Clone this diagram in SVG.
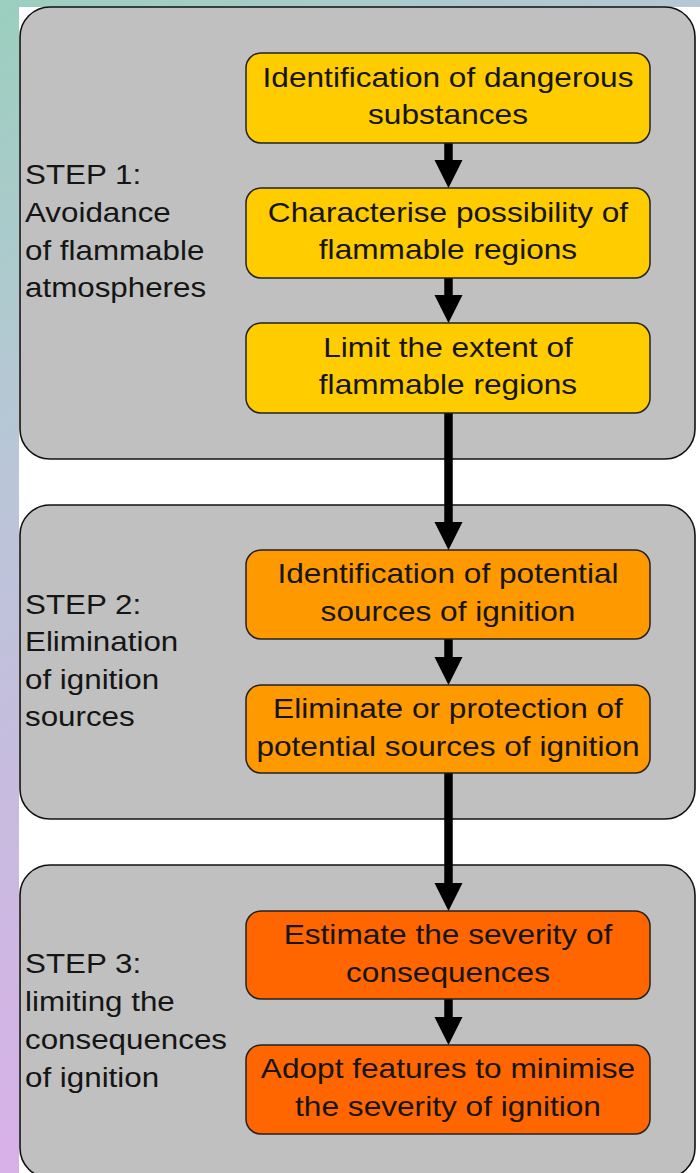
<svg xmlns="http://www.w3.org/2000/svg" width="700" height="1173" viewBox="0 0 700 1173">
<defs>
<linearGradient id="bg" gradientUnits="userSpaceOnUse" x1="0" y1="0" x2="700" y2="1173">
<stop offset="0" stop-color="#9bcfbe"/>
<stop offset="0.3" stop-color="#bac6d8"/>
<stop offset="0.74" stop-color="#d8b0e8"/>
<stop offset="1" stop-color="#e0a8f0"/>
</linearGradient>
<marker id="ah" markerUnits="userSpaceOnUse" markerWidth="28" markerHeight="28" refX="14" refY="27" orient="auto-start-reverse" viewBox="0 0 28 28">
<path d="M0,0 L28,0 L14,27 Z" fill="#000"/>
</marker>
</defs>
<style>
.panel{fill:#c0c0c0;stroke:#111;stroke-width:1.6}
.box{stroke:#222;stroke-width:1.5}
.y{fill:#ffcc00}
.o{fill:#ff9900}
.r{fill:#ff6600}
text{font-family:"Liberation Sans",Arial,sans-serif;font-size:28.5px;fill:#151515}
.c{text-anchor:middle}
.conn line{stroke:#000;stroke-width:8.5}
.conn path{fill:#000}
</style>
<rect x="0" y="0" width="700" height="1173" fill="url(#bg)"/>
<rect x="19" y="7" width="681" height="1166" fill="#fff"/>

<g id="step1">
<rect class="panel" x="20" y="7" width="675" height="452" rx="30"/>
<text transform="translate(25,184) scale(1.1,1)">STEP 1:</text>
<text transform="translate(25,222) scale(1.1,1)">Avoidance</text>
<text transform="translate(25,260) scale(1.1,1)">of flammable</text>
<text transform="translate(25,297) scale(1.1,1)">atmospheres</text>
</g>
<g id="step2">
<rect class="panel" x="20" y="505" width="675" height="314" rx="30"/>
<text transform="translate(25,614) scale(1.1,1)">STEP 2:</text>
<text transform="translate(25,651) scale(1.1,1)">Elimination</text>
<text transform="translate(25,689) scale(1.1,1)">of ignition</text>
<text transform="translate(25,726) scale(1.1,1)">sources</text>
</g>
<g id="step3">
<rect class="panel" x="20" y="865" width="675" height="313" rx="30"/>
<text transform="translate(25,973) scale(1.1,1)">STEP 3:</text>
<text transform="translate(25,1011) scale(1.1,1)">limiting the</text>
<text transform="translate(25,1049) scale(1.1,1)">consequences</text>
<text transform="translate(25,1087) scale(1.1,1)">of ignition</text>
</g>

<g id="connectors" class="conn">
<line x1="448.5" y1="143" x2="448.5" y2="162"/><path d="M434.5,160 L462.5,160 L448.5,188 Z"/>
<line x1="448.5" y1="278" x2="448.5" y2="297"/><path d="M434.5,295 L462.5,295 L448.5,323 Z"/>
<line x1="448.5" y1="413" x2="448.5" y2="524"/><path d="M434.5,522 L462.5,522 L448.5,550 Z"/>
<line x1="448.5" y1="639" x2="448.5" y2="659"/><path d="M434.5,657 L462.5,657 L448.5,685 Z"/>
<line x1="448.5" y1="773" x2="448.5" y2="885"/><path d="M434.5,883 L462.5,883 L448.5,911 Z"/>
<line x1="448.5" y1="999" x2="448.5" y2="1019"/><path d="M434.5,1017 L462.5,1017 L448.5,1045 Z"/>
</g>

<g id="n1">
<rect class="box y" x="246" y="53" width="404" height="90" rx="15"/>
<text class="c" transform="translate(448,87) scale(1.11,1)">Identification of dangerous</text>
<text class="c" transform="translate(448,124) scale(1.11,1)">substances</text>
</g>
<g id="n2">
<rect class="box y" x="246" y="188" width="404" height="90" rx="15"/>
<text class="c" transform="translate(448,222) scale(1.11,1)">Characterise possibility of</text>
<text class="c" transform="translate(448,259) scale(1.11,1)">flammable regions</text>
</g>
<g id="n3">
<rect class="box y" x="246" y="323" width="404" height="90" rx="15"/>
<text class="c" transform="translate(448,357) scale(1.11,1)">Limit the extent of</text>
<text class="c" transform="translate(448,394) scale(1.11,1)">flammable regions</text>
</g>
<g id="n4">
<rect class="box o" x="246" y="550" width="404" height="89" rx="15"/>
<text class="c" transform="translate(448,583) scale(1.11,1)">Identification of potential</text>
<text class="c" transform="translate(448,621) scale(1.11,1)">sources of ignition</text>
</g>
<g id="n5">
<rect class="box o" x="246" y="685" width="404" height="88" rx="15"/>
<text class="c" transform="translate(448,718) scale(1.11,1)">Eliminate or protection of</text>
<text class="c" transform="translate(448,756) scale(1.11,1)">potential sources of ignition</text>
</g>
<g id="n6">
<rect class="box r" x="246" y="911" width="404" height="88" rx="15"/>
<text class="c" transform="translate(448,944) scale(1.11,1)">Estimate the severity of</text>
<text class="c" transform="translate(448,982) scale(1.11,1)">consequences</text>
</g>
<g id="n7">
<rect class="box r" x="246" y="1045" width="404" height="89" rx="15"/>
<text class="c" transform="translate(448,1078) scale(1.11,1)">Adopt features to minimise</text>
<text class="c" transform="translate(448,1116) scale(1.11,1)">the severity of ignition</text>
</g>
</svg>
